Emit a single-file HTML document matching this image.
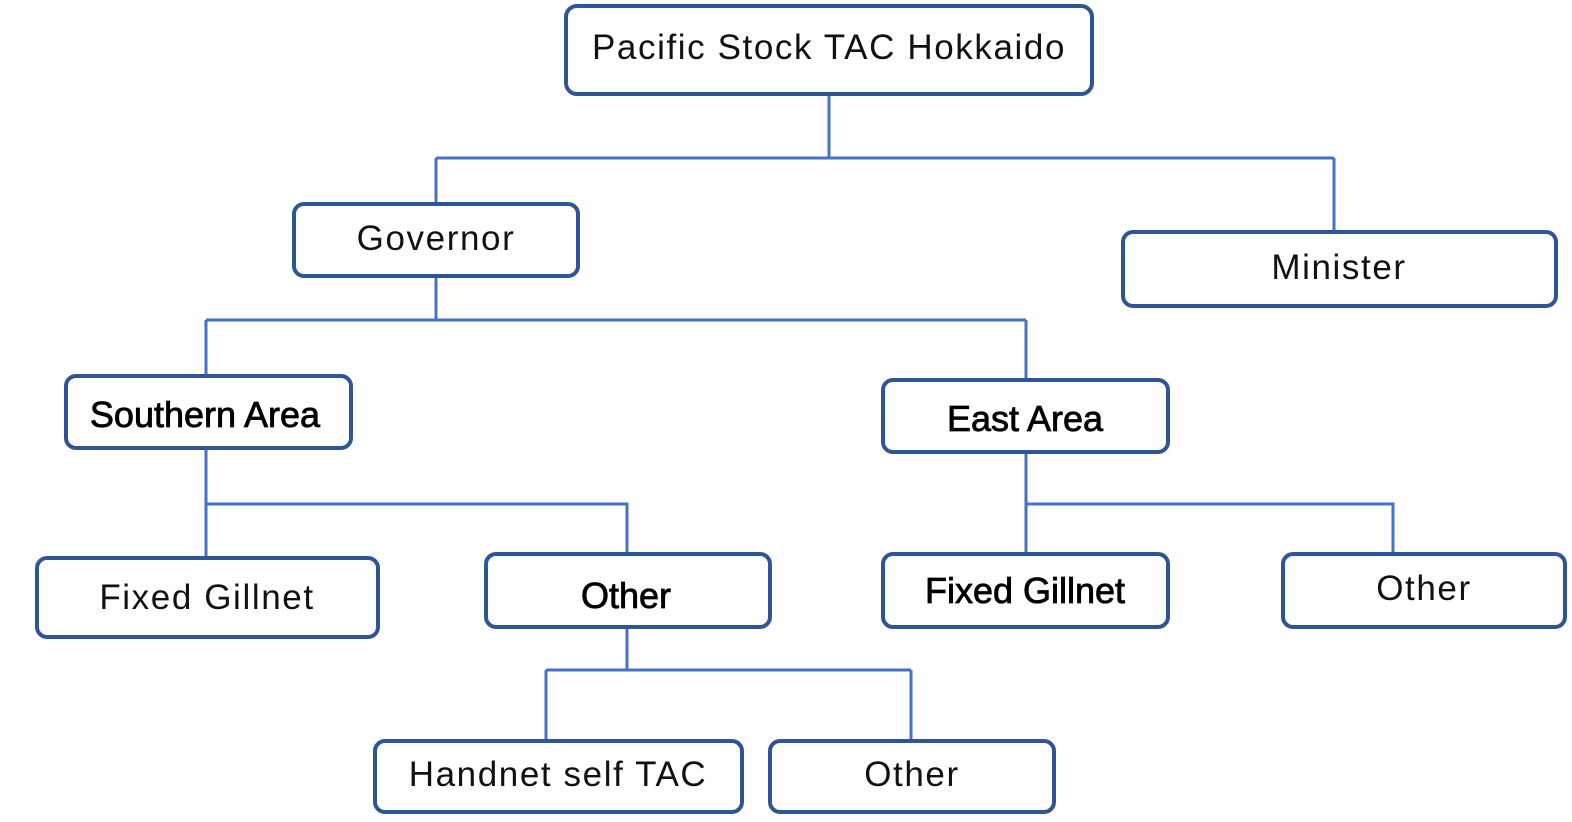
<!DOCTYPE html>
<html><head><meta charset="utf-8"><style>
html,body{margin:0;padding:0;background:#fff;}
svg{display:block;}
.b{fill:#fff;stroke:#2F5597;stroke-width:4;}
.l{stroke:#4472C4;stroke-width:3;fill:none;}
.t{font-family:"Liberation Sans",sans-serif;font-size:35px;fill:#111;text-anchor:middle;letter-spacing:1.6px;}
.s{font-family:"Liberation Sans",sans-serif;font-size:36px;fill:#000;text-anchor:middle;stroke:#000;stroke-width:0.8px;}
</style></head><body>
<svg width="1572" height="822" viewBox="0 0 1572 822" xmlns="http://www.w3.org/2000/svg">
<g class="l">
<path d="M829 95V158M436 158H1334M436 158V203M1334 158V231"/>
<path d="M436 277V320M206 320H1026M206 320V375M1026 320V379"/>
<path d="M206 449V557M206 504H627V553"/>
<path d="M1026 453V553M1026 504H1393V553"/>
<path d="M627 628V670M546 670H911M546 670V740M911 670V740"/>
</g>
<rect class="b" x="566" y="6" width="526" height="88" rx="11"/>
<rect class="b" x="294" y="204" width="284" height="72" rx="10"/>
<rect class="b" x="1123" y="232" width="433" height="74" rx="10"/>
<rect class="b" x="66" y="376" width="285" height="72" rx="10"/>
<rect class="b" x="883" y="380" width="285" height="72" rx="10"/>
<rect class="b" x="37" y="558" width="341" height="79" rx="10"/>
<rect class="b" x="486" y="554" width="284" height="73" rx="10"/>
<rect class="b" x="883" y="554" width="285" height="73" rx="10"/>
<rect class="b" x="1283" y="554" width="282" height="73" rx="10"/>
<rect class="b" x="375" y="741" width="367" height="71" rx="10"/>
<rect class="b" x="770" y="741" width="284" height="71" rx="10"/>
<text class="t" x="829" y="59">Pacific Stock TAC Hokkaido</text>
<text class="t" x="436" y="250">Governor</text>
<text class="t" x="1339" y="279">Minister</text>
<text class="s" x="205" y="427">Southern Area</text>
<text class="s" x="1025" y="431">East Area</text>
<text class="t" x="207" y="609">Fixed Gillnet</text>
<text class="s" x="626" y="608">Other</text>
<text class="s" x="1025" y="603">Fixed Gillnet</text>
<text class="t" x="1424" y="600">Other</text>
<text class="t" x="558" y="786">Handnet self TAC</text>
<text class="t" x="912" y="786">Other</text>
</svg>
</body></html>
